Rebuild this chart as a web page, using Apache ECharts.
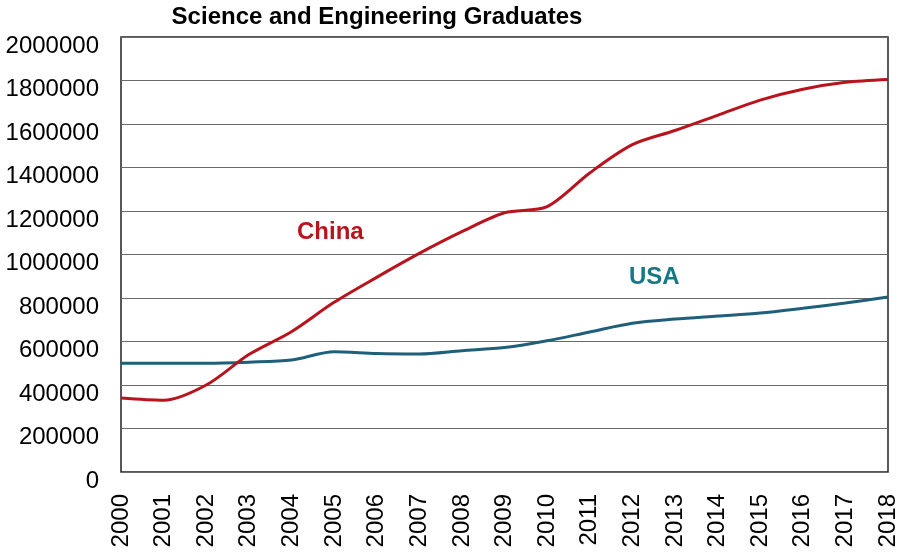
<!DOCTYPE html>
<html>
<head>
<meta charset="utf-8">
<script src="https://cdn.jsdelivr.net/npm/echarts@6/dist/echarts.min.js"></script>
<style>
  html, body { margin: 0; padding: 0; background: #fff; }
  #chart { width: 904px; height: 553px; }
</style>
</head>
<body>
<div id="chart"></div>
<script>
// Science and engineering graduates per year
const years = ['2000','2001','2002','2003','2004','2005','2006','2007','2008','2009',
               '2010','2011','2012','2013','2014','2015','2016','2017','2018'];
const china = [340000, 330000, 400000, 540000, 645000, 780000, 895000, 1005000, 1105000, 1192000,
               1220000, 1375000, 1505000, 1570000, 1640000, 1710000, 1760000, 1792000, 1805000];
const usa = [500000, 500000, 500000, 505000, 515000, 553000, 545000, 543000, 558000, 572000,
             603000, 644000, 684000, 703000, 717000, 731000, 753000, 777000, 805000];
const yTicks = { min: 0, max: 2000000, interval: 200000 };

const FONT = 'Liberation Sans, Arial';

const chart = echarts.init(document.getElementById('chart'));
chart.setOption({
  animation: false,
  backgroundColor: '#ffffff',
  title: {
    text: 'Science and Engineering Graduates',
    left: 372, top: 0, textAlign: 'center',
    textStyle: { fontFamily: FONT, fontSize: 24, fontWeight: 'bold', color: '#000' }
  },
  grid: {
    left: 121, right: 16, top: 37, bottom: 81,
    show: true, borderColor: '#222', borderWidth: 1.5, backgroundColor: 'transparent'
  },
  xAxis: {
    type: 'category',
    data: years,
    boundaryGap: false,
    axisLine: { show: false },
    axisTick: { show: false },
    splitLine: { show: false },
    axisLabel: {
      rotate: 90, margin: 22, interval: 0,
      fontFamily: FONT, fontSize: 24, color: '#000'
    }
  },
  yAxis: {
    type: 'value',
    min: yTicks.min, max: yTicks.max, interval: yTicks.interval,
    axisLine: { show: false },
    axisTick: { show: false },
    splitLine: { show: true, lineStyle: { color: '#6a6a6a', width: 1.2 } },
    axisLabel: {
      margin: 22,
      // tick labels sit a little below their gridlines
      verticalAlign: 'top',
      lineHeight: 18,
      formatter: (v) => String(v),
      fontFamily: FONT, fontSize: 24, color: '#000'
    }
  },
  series: [
    {
      name: 'China', type: 'line', data: china, smooth: 0.3,
      symbol: 'none', lineStyle: { color: '#b8141d', width: 3 }, z: 3
    },
    {
      name: 'USA', type: 'line', data: usa, smooth: 0.3,
      symbol: 'none', lineStyle: { color: '#1f5f7a', width: 3 }, z: 2
    }
  ],
  graphic: [
    {
      type: 'text', left: 297, top: 220,
      style: { text: 'China', fill: '#b8141d', font: 'bold 24px "Liberation Sans", Arial' }
    },
    {
      type: 'text', left: 629, top: 265,
      style: { text: 'USA', fill: '#137985', font: 'bold 24px "Liberation Sans", Arial' }
    }
  ]
});
</script>
</body>
</html>
